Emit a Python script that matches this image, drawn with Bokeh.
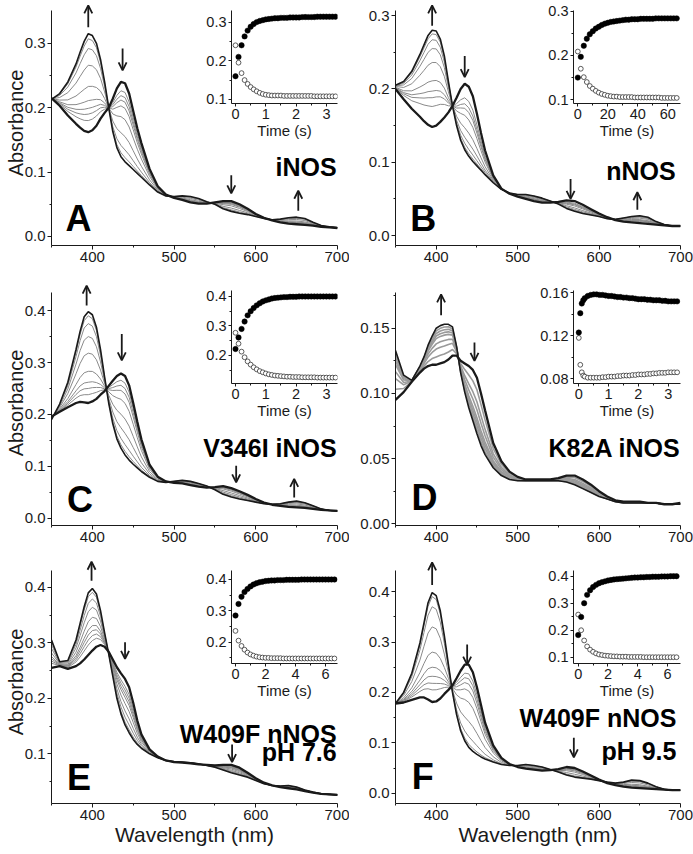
import numpy as np
from bokeh.plotting import figure
from bokeh.models import (Range1d, FixedTicker, PrintfTickFormatter, Label, Arrow,
                          OpenHead, GridBox)
from bokeh.embed import file_html
from bokeh.resources import INLINE

FONT = "Liberation Sans"
INK = "#1a1a1a"
GRAY = "#8a8a8a"

# ---------------- spectra data (wavelength grid, nm) ----------------
W = [350, 360, 370, 380, 385, 390, 395, 400, 405, 410, 415, 420, 425, 430, 435, 440,
     445, 450, 455, 460, 470, 480, 490, 500, 510, 520, 530, 540, 550, 560, 570, 580,
     590, 600, 610, 620, 630, 640, 650, 660, 670, 680, 690, 700]

A_start = [0.215, 0.203, 0.188, 0.175, 0.169, 0.164, 0.162, 0.165, 0.172, 0.183, 0.192, 0.200,
           0.214, 0.230, 0.240, 0.238, 0.222, 0.195, 0.168, 0.145, 0.105, 0.078, 0.065, 0.060,
           0.057, 0.053, 0.051, 0.051, 0.053, 0.055, 0.055, 0.050, 0.043, 0.035, 0.029, 0.025,
           0.022, 0.020, 0.019, 0.018, 0.017, 0.015, 0.014, 0.013]
A_end = [0.213, 0.222, 0.240, 0.268, 0.286, 0.303, 0.315, 0.312, 0.300, 0.275, 0.240, 0.200,
         0.163, 0.138, 0.124, 0.116, 0.110, 0.104, 0.098, 0.092, 0.080, 0.069, 0.063, 0.062,
         0.063, 0.062, 0.059, 0.054, 0.050, 0.043, 0.039, 0.036, 0.034, 0.031, 0.028, 0.026,
         0.027, 0.029, 0.030, 0.028, 0.022, 0.017, 0.015, 0.014]
A_mid395 = [0.307, 0.292, 0.266, 0.233, 0.211, 0.199, 0.190, 0.180]

B_start = [0.200, 0.186, 0.173, 0.162, 0.156, 0.151, 0.148, 0.150, 0.155, 0.161, 0.168, 0.177,
           0.188, 0.200, 0.207, 0.203, 0.190, 0.166, 0.140, 0.116, 0.082, 0.064, 0.057, 0.053,
           0.050, 0.047, 0.045, 0.045, 0.046, 0.048, 0.047, 0.042, 0.036, 0.030, 0.025, 0.021,
           0.019, 0.018, 0.017, 0.016, 0.015, 0.014, 0.013, 0.013]
B_end = [0.205, 0.210, 0.224, 0.247, 0.260, 0.273, 0.280, 0.279, 0.268, 0.245, 0.210, 0.177,
         0.150, 0.130, 0.117, 0.108, 0.101, 0.095, 0.089, 0.083, 0.072, 0.063, 0.058, 0.056,
         0.056, 0.054, 0.051, 0.047, 0.043, 0.037, 0.033, 0.030, 0.028, 0.026, 0.023, 0.022,
         0.024, 0.026, 0.027, 0.025, 0.019, 0.015, 0.013, 0.013]
B_mid395 = [0.275, 0.267, 0.255, 0.236, 0.211, 0.197, 0.188, 0.176]

C_start = [0.196, 0.205, 0.214, 0.222, 0.224, 0.223, 0.222, 0.225, 0.230, 0.238, 0.245, 0.255,
           0.265, 0.274, 0.279, 0.274, 0.256, 0.222, 0.186, 0.152, 0.103, 0.080, 0.071, 0.068,
           0.067, 0.064, 0.061, 0.059, 0.060, 0.062, 0.058, 0.052, 0.045, 0.037, 0.030, 0.026,
           0.024, 0.022, 0.021, 0.020, 0.018, 0.016, 0.015, 0.014]
C_end = [0.190, 0.220, 0.262, 0.325, 0.360, 0.388, 0.398, 0.392, 0.368, 0.325, 0.272, 0.222,
         0.182, 0.153, 0.135, 0.122, 0.112, 0.104, 0.097, 0.090, 0.079, 0.071, 0.069, 0.071,
         0.073, 0.071, 0.067, 0.062, 0.055, 0.046, 0.041, 0.037, 0.034, 0.031, 0.028, 0.027,
         0.028, 0.031, 0.033, 0.030, 0.024, 0.018, 0.015, 0.014]
C_mid395 = [0.390, 0.375, 0.350, 0.318, 0.283, 0.262, 0.250, 0.238]

D_start = [0.095, 0.101, 0.109, 0.116, 0.119, 0.121, 0.122, 0.122, 0.123, 0.124, 0.126, 0.129,
           0.129, 0.125, 0.123, 0.121, 0.118, 0.112, 0.100, 0.087, 0.062, 0.048, 0.040, 0.036,
           0.034, 0.034, 0.034, 0.034, 0.035, 0.037, 0.037, 0.034, 0.030, 0.025, 0.021, 0.018,
           0.017, 0.017, 0.017, 0.016, 0.016, 0.015, 0.015, 0.016]
D_end = [0.133, 0.114, 0.110, 0.121, 0.128, 0.137, 0.144, 0.150, 0.152, 0.153, 0.153, 0.151,
         0.136, 0.116, 0.101, 0.089, 0.079, 0.069, 0.060, 0.053, 0.043, 0.037, 0.034, 0.033,
         0.033, 0.033, 0.033, 0.033, 0.033, 0.032, 0.030, 0.027, 0.024, 0.021, 0.019, 0.017,
         0.016, 0.016, 0.016, 0.016, 0.016, 0.015, 0.015, 0.015]
D_mid400 = [0.128, 0.134, 0.138, 0.142, 0.144, 0.146, 0.148]

E_start = [0.255, 0.258, 0.253, 0.258, 0.263, 0.270, 0.278, 0.286, 0.293, 0.296, 0.293, 0.284,
           0.270, 0.256, 0.245, 0.235, 0.220, 0.192, 0.160, 0.135, 0.108, 0.095, 0.088, 0.085,
           0.084, 0.083, 0.081, 0.080, 0.079, 0.080, 0.080, 0.075, 0.066, 0.056, 0.048, 0.043,
           0.040, 0.038, 0.036, 0.033, 0.030, 0.028, 0.027, 0.026]
E_end = [0.305, 0.266, 0.268, 0.305, 0.335, 0.365, 0.390, 0.398, 0.388, 0.358, 0.318, 0.280,
         0.240, 0.200, 0.172, 0.152, 0.138, 0.126, 0.117, 0.110, 0.100, 0.093, 0.088, 0.086,
         0.085, 0.084, 0.082, 0.079, 0.076, 0.071, 0.066, 0.062, 0.058, 0.052, 0.046, 0.043,
         0.042, 0.043, 0.040, 0.035, 0.031, 0.028, 0.027, 0.026]
E_mid400 = [0.391, 0.379, 0.364, 0.346, 0.331, 0.322, 0.313, 0.304]

F_start = [0.178, 0.180, 0.185, 0.190, 0.190, 0.186, 0.181, 0.182, 0.188, 0.197, 0.205, 0.214,
           0.228, 0.243, 0.255, 0.255, 0.240, 0.210, 0.175, 0.140, 0.095, 0.070, 0.058, 0.052,
           0.049, 0.047, 0.045, 0.046, 0.048, 0.052, 0.050, 0.043, 0.035, 0.027, 0.020, 0.016,
           0.013, 0.011, 0.010, 0.009, 0.008, 0.007, 0.006, 0.006]
F_end = [0.178, 0.200, 0.238, 0.298, 0.338, 0.378, 0.398, 0.392, 0.362, 0.312, 0.255, 0.200,
         0.156, 0.124, 0.104, 0.091, 0.083, 0.077, 0.072, 0.068, 0.062, 0.057, 0.055, 0.055,
         0.057, 0.055, 0.052, 0.047, 0.042, 0.036, 0.032, 0.030, 0.028, 0.025, 0.022, 0.020,
         0.022, 0.026, 0.025, 0.020, 0.013, 0.008, 0.006, 0.006]
F_mid395 = [0.390, 0.370, 0.330, 0.280, 0.250, 0.232, 0.218, 0.205]

# ---------------- kinetic insets ----------------
t_A = [0.0, 0.1, 0.2, 0.3, 0.4, 0.5, 0.6, 0.7, 0.8, 0.9, 1.0, 1.1, 1.2, 1.3, 1.4, 1.5, 1.6,
       1.7, 1.8, 1.9, 2.0, 2.1, 2.2, 2.3, 2.4, 2.5, 2.6, 2.7, 2.8, 2.9, 3.0, 3.1, 3.2, 3.3]
A_fill = [0.160, 0.210, 0.240, 0.263, 0.278, 0.288, 0.295, 0.300, 0.303, 0.305, 0.307, 0.308,
          0.309, 0.310, 0.310, 0.311, 0.311, 0.311, 0.312, 0.312, 0.312, 0.312, 0.313, 0.313,
          0.313, 0.313, 0.313, 0.314, 0.314, 0.314, 0.314, 0.314, 0.314, 0.314]
A_open = [0.240, 0.195, 0.168, 0.150, 0.140, 0.132, 0.126, 0.121, 0.117, 0.114, 0.112, 0.111,
          0.110, 0.110, 0.110, 0.110, 0.109, 0.109, 0.109, 0.109, 0.109, 0.109, 0.109, 0.109,
          0.109, 0.109, 0.108, 0.108, 0.108, 0.108, 0.108, 0.108, 0.108, 0.108]

t_B = [0, 2, 4, 6, 8, 10, 12, 14, 16, 18, 20, 22, 24, 26, 28, 30, 32, 34, 36, 38, 40, 42, 44,
       46, 48, 50, 52, 54, 56, 58, 60, 62, 64, 66]
B_fill = [0.150, 0.197, 0.222, 0.238, 0.248, 0.255, 0.261, 0.265, 0.269, 0.272, 0.274, 0.276,
          0.277, 0.278, 0.279, 0.280, 0.281, 0.281, 0.282, 0.282, 0.282, 0.283, 0.283, 0.283,
          0.283, 0.283, 0.284, 0.284, 0.284, 0.284, 0.284, 0.284, 0.284, 0.284]
B_open = [0.209, 0.170, 0.151, 0.140, 0.131, 0.125, 0.120, 0.116, 0.113, 0.111, 0.109, 0.108,
          0.107, 0.107, 0.106, 0.106, 0.106, 0.106, 0.106, 0.105, 0.105, 0.105, 0.105, 0.105,
          0.105, 0.105, 0.105, 0.105, 0.104, 0.104, 0.104, 0.104, 0.104, 0.104]

t_C = t_A
C_fill = [0.222, 0.261, 0.290, 0.315, 0.336, 0.350, 0.361, 0.370, 0.377, 0.383, 0.387, 0.390,
          0.393, 0.395, 0.396, 0.397, 0.398, 0.398, 0.399, 0.399, 0.399, 0.400, 0.400, 0.400,
          0.400, 0.400, 0.400, 0.400, 0.400, 0.400, 0.400, 0.400, 0.400, 0.400]
C_open = [0.277, 0.240, 0.213, 0.194, 0.180, 0.169, 0.160, 0.153, 0.147, 0.143, 0.139, 0.136,
          0.134, 0.132, 0.131, 0.130, 0.129, 0.128, 0.128, 0.127, 0.127, 0.127, 0.126, 0.126,
          0.126, 0.126, 0.126, 0.125, 0.125, 0.125, 0.125, 0.125, 0.125, 0.125]

t_D = [0.0, 0.05, 0.1, 0.15, 0.2, 0.3, 0.4, 0.5, 0.6, 0.7, 0.8, 0.9, 1.0, 1.1, 1.2, 1.3, 1.4,
       1.5, 1.6, 1.7, 1.8, 1.9, 2.0, 2.1, 2.2, 2.3, 2.4, 2.5, 2.6, 2.7, 2.8, 2.9, 3.0, 3.1,
       3.2, 3.3]
D_fill = [0.123, 0.141, 0.150, 0.153, 0.155, 0.157, 0.158, 0.1585, 0.1585, 0.158, 0.158,
          0.1575, 0.157, 0.157, 0.1565, 0.156, 0.156, 0.1555, 0.1555, 0.155, 0.155, 0.1545,
          0.154, 0.154, 0.154, 0.1535, 0.1535, 0.153, 0.153, 0.153, 0.1525, 0.1525, 0.152,
          0.152, 0.152, 0.152]
D_open = [0.118, 0.093, 0.086, 0.083, 0.082, 0.081, 0.081, 0.081, 0.081, 0.081, 0.0815,
          0.0815, 0.082, 0.082, 0.082, 0.0825, 0.0825, 0.083, 0.083, 0.083, 0.0835, 0.0835,
          0.084, 0.084, 0.084, 0.0845, 0.0845, 0.085, 0.085, 0.0855, 0.0855, 0.0855, 0.086,
          0.086, 0.086, 0.086]

t_E = [0.0, 0.2, 0.4, 0.6, 0.8, 1.0, 1.2, 1.4, 1.6, 1.8, 2.0, 2.2, 2.4, 2.6, 2.8, 3.0, 3.2,
       3.4, 3.6, 3.8, 4.0, 4.2, 4.4, 4.6, 4.8, 5.0, 5.2, 5.4, 5.6, 5.8, 6.0, 6.2, 6.4, 6.6]
E_fill = [0.285, 0.322, 0.345, 0.360, 0.370, 0.378, 0.384, 0.388, 0.391, 0.393, 0.395, 0.396,
          0.397, 0.397, 0.398, 0.398, 0.398, 0.399, 0.399, 0.399, 0.399, 0.399, 0.400, 0.400,
          0.400, 0.400, 0.400, 0.400, 0.400, 0.400, 0.400, 0.400, 0.400, 0.400]
E_open = [0.236, 0.205, 0.188, 0.176, 0.167, 0.161, 0.157, 0.154, 0.152, 0.151, 0.150, 0.150,
          0.149, 0.149, 0.149, 0.149, 0.148, 0.148, 0.148, 0.148, 0.148, 0.148, 0.148, 0.148,
          0.148, 0.148, 0.148, 0.148, 0.148, 0.148, 0.148, 0.148, 0.148, 0.148]

t_F = t_E
F_fill = [0.182, 0.249, 0.300, 0.331, 0.348, 0.360, 0.368, 0.374, 0.378, 0.381, 0.384, 0.386,
          0.388, 0.389, 0.390, 0.391, 0.392, 0.393, 0.394, 0.395, 0.395, 0.396, 0.396, 0.397,
          0.397, 0.398, 0.398, 0.398, 0.399, 0.399, 0.399, 0.400, 0.400, 0.400]
F_open = [0.258, 0.200, 0.162, 0.140, 0.128, 0.120, 0.114, 0.110, 0.108, 0.106, 0.105, 0.104,
          0.103, 0.103, 0.102, 0.102, 0.102, 0.101, 0.101, 0.101, 0.101, 0.101, 0.100, 0.100,
          0.100, 0.100, 0.100, 0.100, 0.100, 0.100, 0.100, 0.100, 0.100, 0.100]

WL_TICKS = [400, 500, 600, 700]
WL_MINOR = [350, 450, 550, 650]


def style_axes(p, fs, tick_out=4):
    for ax in (p.xaxis[0], p.yaxis[0]):
        ax.axis_line_color = INK
        ax.axis_line_width = 1
        ax.major_tick_line_color = INK
        ax.minor_tick_line_color = INK
        ax.major_tick_in = 0
        ax.major_tick_out = tick_out
        ax.minor_tick_in = 0
        ax.minor_tick_out = 2
        ax.major_label_text_font = FONT
        ax.major_label_text_font_size = fs
        ax.major_label_text_color = INK
        ax.major_label_standoff = 2


def intermediates(start, end, ref_wl, levels):
    s = np.array(start)
    e = np.array(end)
    i = W.index(ref_wl)
    out = []
    for v in levels:
        f = (v - s[i]) / (e[i] - s[i])
        out.append(list(s + f * (e - s)))
    return out


def spectra_panel(col, row, yview, ybounds, yticks, yminor, yfmt, start, end, ref_wl,
                  levels, arrows, letter, names, ylabel=False, xlabel=False, gray_w=1.0,
                  gray=GRAY):
    width, bl, br = col
    height, bt, bb = row
    p = figure(width=width, height=height, x_range=Range1d(350, 700),
               y_range=Range1d(*yview), output_backend="svg", toolbar_location=None,
               min_border_left=bl, min_border_right=br, min_border_top=bt,
               min_border_bottom=bb)
    p.outline_line_color = None
    p.xgrid.visible = False
    p.ygrid.visible = False
    p.xaxis.ticker = FixedTicker(ticks=WL_TICKS, minor_ticks=WL_MINOR)
    p.yaxis.ticker = FixedTicker(ticks=yticks, minor_ticks=yminor)
    p.yaxis.formatter = PrintfTickFormatter(format=yfmt)
    p.xaxis.formatter = PrintfTickFormatter(format="%d")
    p.yaxis.bounds = ybounds
    style_axes(p, "15px")
    if xlabel:
        p.xaxis.axis_label = "Wavelength (nm)"
        p.xaxis.axis_label_text_font = FONT
        p.xaxis.axis_label_text_font_size = "21px"
        p.xaxis.axis_label_text_font_style = "normal"
        p.xaxis.axis_label_text_color = INK
        p.xaxis.axis_label_standoff = 0
    if ylabel:
        p.yaxis.axis_label = "Absorbance"
        p.yaxis.axis_label_text_font = FONT
        p.yaxis.axis_label_text_font_size = "20px"
        p.yaxis.axis_label_text_font_style = "normal"
        p.yaxis.axis_label_text_color = INK
        p.yaxis.axis_label_standoff = -5
    mids = intermediates(start, end, ref_wl, levels)
    p.multi_line(xs=[W] * len(mids), ys=mids, line_color=gray, line_width=gray_w)
    p.line(W, end, line_color=INK, line_width=1.6)
    p.line(W, start, line_color=INK, line_width=2.3)
    for (x, y0, y1) in arrows:
        p.add_layout(Arrow(end=OpenHead(size=8, line_width=1.8, line_color=INK),
                           x_start=x, y_start=y0, x_end=x, y_end=y1,
                           line_width=1.8, line_color=INK))
    lt, lx, ly = letter
    p.add_layout(Label(x=lx, y=ly, text=lt, text_font=FONT, text_font_size="36px",
                       text_font_style="bold", text_color="black",
                       text_baseline="middle", text_align="left"))
    for (txt, x, y) in names:
        p.add_layout(Label(x=x, y=y, text=txt, text_font=FONT, text_font_size="25px",
                           text_font_style="bold", text_color="black",
                           text_baseline="middle", text_align="right"))
    return p


def inset_panel(size, borders, xr, yr, xticks, yticks, yfmt, t, filled, opened):
    w, h = size
    bl, br, bt, bb = borders
    q = figure(width=w, height=h, x_range=Range1d(*xr), y_range=Range1d(*yr),
               output_backend="svg", toolbar_location=None,
               min_border_left=bl, min_border_right=br, min_border_top=bt,
               min_border_bottom=bb, background_fill_alpha=0, border_fill_alpha=0)
    q.outline_line_color = None
    q.xgrid.visible = False
    q.ygrid.visible = False
    xs = xticks[1] - xticks[0]
    ys = yticks[1] - yticks[0]
    q.xaxis.ticker = FixedTicker(ticks=xticks, minor_ticks=[v + xs / 2 for v in xticks])
    q.yaxis.ticker = FixedTicker(ticks=yticks,
                                 minor_ticks=[v - ys / 2 for v in yticks] + [yticks[-1] + ys / 2])
    q.yaxis.formatter = PrintfTickFormatter(format=yfmt)
    q.xaxis.formatter = PrintfTickFormatter(format="%d")
    style_axes(q, "14.5px", tick_out=3)
    q.xaxis.axis_label = "Time (s)"
    q.xaxis.axis_label_text_font = FONT
    q.xaxis.axis_label_text_font_size = "15px"
    q.xaxis.axis_label_text_font_style = "normal"
    q.xaxis.axis_label_text_color = INK
    q.xaxis.axis_label_standoff = 0
    q.scatter(t, opened, size=4.8, marker="circle", fill_color="white",
              line_color="#333333", line_width=0.8)
    q.scatter(t, filled, size=5.4, marker="circle", fill_color="black",
              line_color="black", line_width=0.5)
    return q


# main panels (width, min_border_left, min_border_right) / (height, top, bottom)
LEFT = (349, 51, 12)
RIGHT = (344, 46, 13)
ROW1 = (280, 0, 35)
ROW2 = (280, 0, 35)
ROW3 = (294, 0, 51)
# insets: left-column insets 154 px wide, right-column 156 px wide
IL = (154, 141)
IR = (156, 141)
BL = (36, 12, 8, 40)
BR = (36, 13, 8, 40)

pA = spectra_panel(LEFT, ROW1, (-0.014, 0.3665), (-0.014, 0.351), [0.0, 0.1, 0.2, 0.3],
                   [0.05, 0.15, 0.25], "%.1f", A_start, A_end, 395, A_mid395,
                   [(395, 0.325, 0.359), (437, 0.292, 0.258), (570, 0.095, 0.067),
                    (652, 0.040, 0.071)],
                   ("A", 367, 0.0287), [("iNOS", 699, 0.108)], ylabel=True)
pB = spectra_panel(RIGHT, ROW1, (-0.0136, 0.3206), (-0.0136, 0.307), [0.0, 0.1, 0.2, 0.3],
                   [0.05, 0.15, 0.25], "%.1f", B_start, B_end, 395, B_mid395,
                   [(395, 0.286, 0.314), (435, 0.245, 0.216), (565, 0.077, 0.050),
                    (647, 0.035, 0.059)],
                   ("B", 368, 0.0239), [("nNOS", 694, 0.0887)])
pC = spectra_panel(LEFT, ROW2, (-0.014, 0.458), (-0.014, 0.435), [0.0, 0.1, 0.2, 0.3, 0.4],
                   [0.05, 0.15, 0.25, 0.35], "%.1f", C_start, C_end, 395, C_mid395,
                   [(393, 0.410, 0.448), (436, 0.355, 0.304), (576, 0.101, 0.069),
                    (647, 0.040, 0.076)],
                   ("C", 369, 0.0356), [("V346I iNOS", 699, 0.1347)], ylabel=True)
pD = spectra_panel(RIGHT, ROW2, (-0.0013, 0.1866), (-0.0013, 0.1774),
                   [0.0, 0.05, 0.10, 0.15], [0.025, 0.075, 0.125, 0.175], "%.2f",
                   D_start, D_end, 400, D_mid400,
                   [(406, 0.160, 0.176), (447, 0.139, 0.125)],
                   ("D", 369.6, 0.0198), [("K82A iNOS", 700, 0.0585)], gray_w=1.6,
                   gray="#9a9a9a")
pE = spectra_panel(LEFT, ROW3, (0.0105, 0.4483), (0.0105, 0.430), [0.1, 0.2, 0.3, 0.4],
                   [0.05, 0.15, 0.25, 0.35], "%.1f", E_start, E_end, 400, E_mid400,
                   [(399, 0.412, 0.446), (440, 0.301, 0.271), (571, 0.117, 0.085)],
                   ("E", 369, 0.0578), [("W409F nNOS", 699, 0.1357), ("pH 7.6", 699, 0.1035)],
                   ylabel=True, xlabel=True)
pF = spectra_panel(RIGHT, ROW3, (-0.0204, 0.4617), (-0.0204, 0.442),
                   [0.0, 0.1, 0.2, 0.3, 0.4], [0.05, 0.15, 0.25, 0.35], "%.1f",
                   F_start, F_end, 395, F_mid395,
                   [(395, 0.413, 0.458), (438, 0.295, 0.255), (569, 0.110, 0.071)],
                   ("F", 370, 0.0335), [("W409F nNOS", 695, 0.150), ("pH 9.5", 695, 0.0837)],
                   xlabel=True)

iA = inset_panel(IL, BL, (-0.132, 3.366), (0.0894, 0.330),
                 [0, 1, 2, 3], [0.1, 0.2, 0.3], "%.1f", t_A, A_fill, A_open)
iB = inset_panel(IR, BR, (-2.87, 68.5), (0.0914, 0.3018),
                 [0, 20, 40, 60], [0.1, 0.2, 0.3], "%.1f", t_B, B_fill, B_open)
iC = inset_panel(IL, BL, (-0.132, 3.366), (0.105, 0.4203),
                 [0, 1, 2, 3], [0.2, 0.3, 0.4], "%.1f", t_C, C_fill, C_open)
iD = inset_panel(IR, BR, (-0.178, 3.413), (0.0756, 0.1621),
                 [0, 1, 2, 3], [0.08, 0.12, 0.16], "%.2f", t_D, D_fill, D_open)
iE = inset_panel(IL, BL, (-0.267, 6.8), (0.132, 0.4287),
                 [0, 2, 4, 6], [0.2, 0.3, 0.4], "%.1f", t_E, E_fill, E_open)
iF = inset_panel(IR, BR, (-0.315, 6.866), (0.0767, 0.4211),
                 [0, 2, 4, 6], [0.1, 0.2, 0.3, 0.4], "%.1f", t_F, F_fill, F_open)

# grid tracks: columns 195|154|188|156 px, rows per panel row 2|141|rest
children = [
    (pA, 0, 0, 3, 2), (iA, 1, 1, 1, 1), (pB, 0, 2, 3, 2), (iB, 1, 3, 1, 1),
    (pC, 3, 0, 3, 2), (iC, 4, 1, 1, 1), (pD, 3, 2, 3, 2), (iD, 4, 3, 1, 1),
    (pE, 6, 0, 3, 2), (iE, 7, 1, 1, 1), (pF, 6, 2, 3, 2), (iF, 7, 3, 1, 1),
]
grid = GridBox(children=children, spacing=0,
               rows=["2px", "141px", "137px", "2px", "141px", "137px", "2px", "141px",
                     "151px"],
               cols=["195px", "154px", "188px", "156px"])

open("out.html", "w").write(file_html(grid, INLINE))
